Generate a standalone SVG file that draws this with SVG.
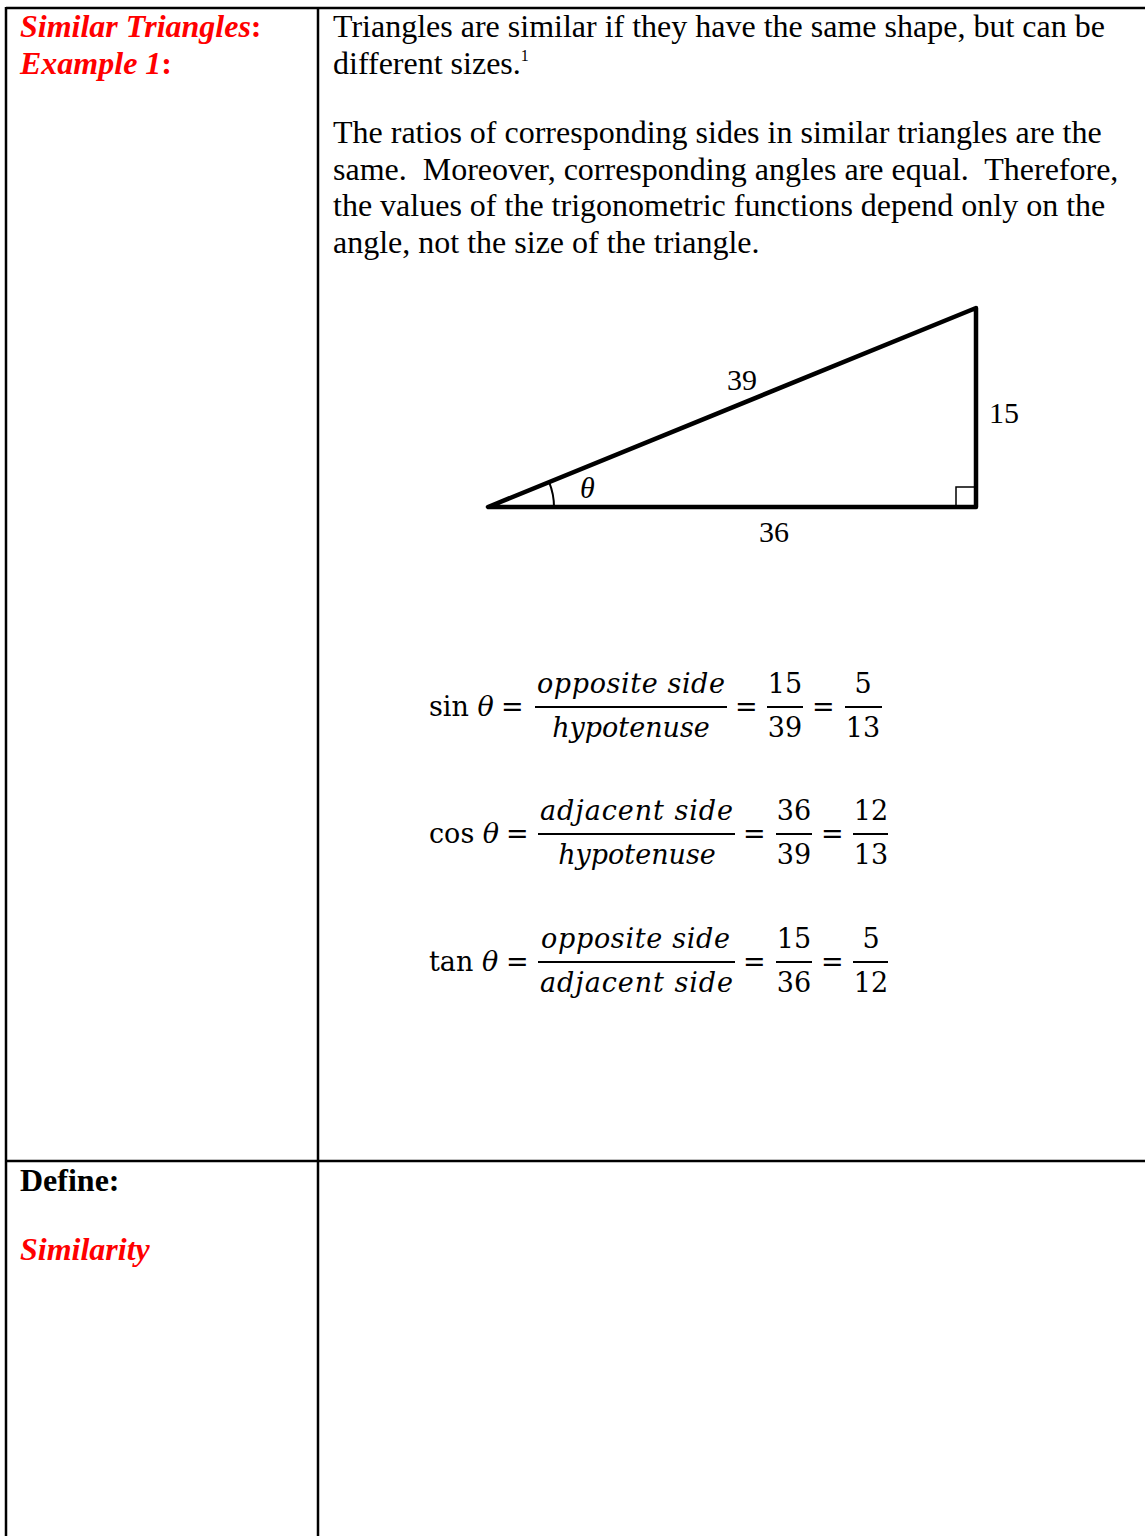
<svg xmlns="http://www.w3.org/2000/svg" width="1145" height="1536" viewBox="0 0 1145 1536">
<style>
.body{font-family:"Liberation Serif","Times New Roman",serif;font-size:32px;fill:#000;white-space:pre}
.red{fill:#FF0000;font-weight:bold;font-style:italic}
.bold{font-weight:bold}
.lbl{font-family:"Liberation Serif","Times New Roman",serif;font-size:30px;fill:#000}
.m{font-family:"DejaVu Serif",serif;font-size:27px;fill:#000}
.mi{font-family:"DejaVu Serif",serif;font-size:27px;font-style:italic;fill:#000}
.grid{stroke:#000;stroke-width:2.5;fill:none}
.bar{stroke:#000;stroke-width:2;fill:none}
</style>
<rect width="1145" height="1536" fill="#fff"/>
<g id="table" class="grid">
<line x1="6" y1="8" x2="1145" y2="8"/>
<line x1="6" y1="7" x2="6" y2="1536"/>
<line x1="318" y1="7" x2="318" y2="1536"/>
<line x1="6" y1="1161" x2="1145" y2="1161"/>
</g>
<g id="header">
<text class="body red" x="20" y="37">Similar Triangles<tspan font-style="normal">:</tspan></text>
<text class="body red" x="20" y="74">Example 1<tspan font-style="normal">:</tspan></text>
</g>
<g id="intro">
<text class="body" x="333" y="37">Triangles are similar if they have the same shape, but can be</text>
<text class="body" x="333" y="74">different sizes.<tspan font-size="16" dy="-13">1</tspan></text>
<text class="body" x="333" y="143">The ratios of corresponding sides in similar triangles are the</text>
<text class="body" x="333" y="180">same.  Moreover, corresponding angles are equal.  Therefore,</text>
<text class="body" x="333" y="216">the values of the trigonometric functions depend only on the</text>
<text class="body" x="333" y="253">angle, not the size of the triangle.</text>
</g>
<g id="triangle">
<polygon points="488,507 976,507 976,308" fill="none" stroke="#000" stroke-width="4.5" stroke-linejoin="round"/>
<rect x="956" y="487" width="20" height="20" fill="none" stroke="#000" stroke-width="1.5"/>
<path d="M554,507 A66,66 0 0 0 549.1,482.1" fill="none" stroke="#000" stroke-width="2"/>
<text class="lbl" x="742" y="390" text-anchor="middle">39</text>
<text class="lbl" x="989" y="423">15</text>
<text class="lbl" x="774" y="542" text-anchor="middle">36</text>
<text class="lbl" x="580" y="498" font-style="italic">θ</text>
</g>
<g id="sin-row">
<text class="m" x="429" y="716">sin <tspan class="mi">θ</tspan></text>
<text class="m" x="501" y="716">=</text>
<text class="mi" x="537" y="693" textLength="188" lengthAdjust="spacing">opposite side</text>
<line class="bar" x1="535" y1="707" x2="727" y2="707"/>
<text class="mi" x="631" y="737" text-anchor="middle">hypotenuse</text>
<text class="m" x="735" y="716">=</text>
<text class="m" x="785" y="693" text-anchor="middle">15</text>
<line class="bar" x1="767" y1="707" x2="803" y2="707"/>
<text class="m" x="785" y="737" text-anchor="middle">39</text>
<text class="m" x="812" y="716">=</text>
<text class="m" x="863" y="693" text-anchor="middle">5</text>
<line class="bar" x1="845" y1="707" x2="882" y2="707"/>
<text class="m" x="863" y="737" text-anchor="middle">13</text>
</g>
<g id="cos-row">
<text class="m" x="429" y="843">cos <tspan class="mi">θ</tspan></text>
<text class="m" x="506" y="843">=</text>
<text class="mi" x="540" y="820" textLength="193" lengthAdjust="spacing">adjacent side</text>
<line class="bar" x1="538" y1="834" x2="735" y2="834"/>
<text class="mi" x="637" y="864" text-anchor="middle">hypotenuse</text>
<text class="m" x="743" y="843">=</text>
<text class="m" x="794" y="820" text-anchor="middle">36</text>
<line class="bar" x1="776" y1="834" x2="812" y2="834"/>
<text class="m" x="794" y="864" text-anchor="middle">39</text>
<text class="m" x="821" y="843">=</text>
<text class="m" x="871" y="820" text-anchor="middle">12</text>
<line class="bar" x1="853" y1="834" x2="888" y2="834"/>
<text class="m" x="871" y="864" text-anchor="middle">13</text>
</g>
<g id="tan-row">
<text class="m" x="429" y="971">tan <tspan class="mi">θ</tspan></text>
<text class="m" x="506" y="971">=</text>
<text class="mi" x="541" y="948" textLength="189" lengthAdjust="spacing">opposite side</text>
<line class="bar" x1="538" y1="962" x2="735" y2="962"/>
<text class="mi" x="540" y="992" textLength="193" lengthAdjust="spacing">adjacent side</text>
<text class="m" x="743" y="971">=</text>
<text class="m" x="794" y="948" text-anchor="middle">15</text>
<line class="bar" x1="776" y1="962" x2="812" y2="962"/>
<text class="m" x="794" y="992" text-anchor="middle">36</text>
<text class="m" x="821" y="971">=</text>
<text class="m" x="871" y="948" text-anchor="middle">5</text>
<line class="bar" x1="853" y1="962" x2="888" y2="962"/>
<text class="m" x="871" y="992" text-anchor="middle">12</text>
</g>
<g id="define">
<text class="body bold" x="20" y="1191">Define:</text>
<text class="body red" x="20" y="1260">Similarity</text>
</g>
</svg>
